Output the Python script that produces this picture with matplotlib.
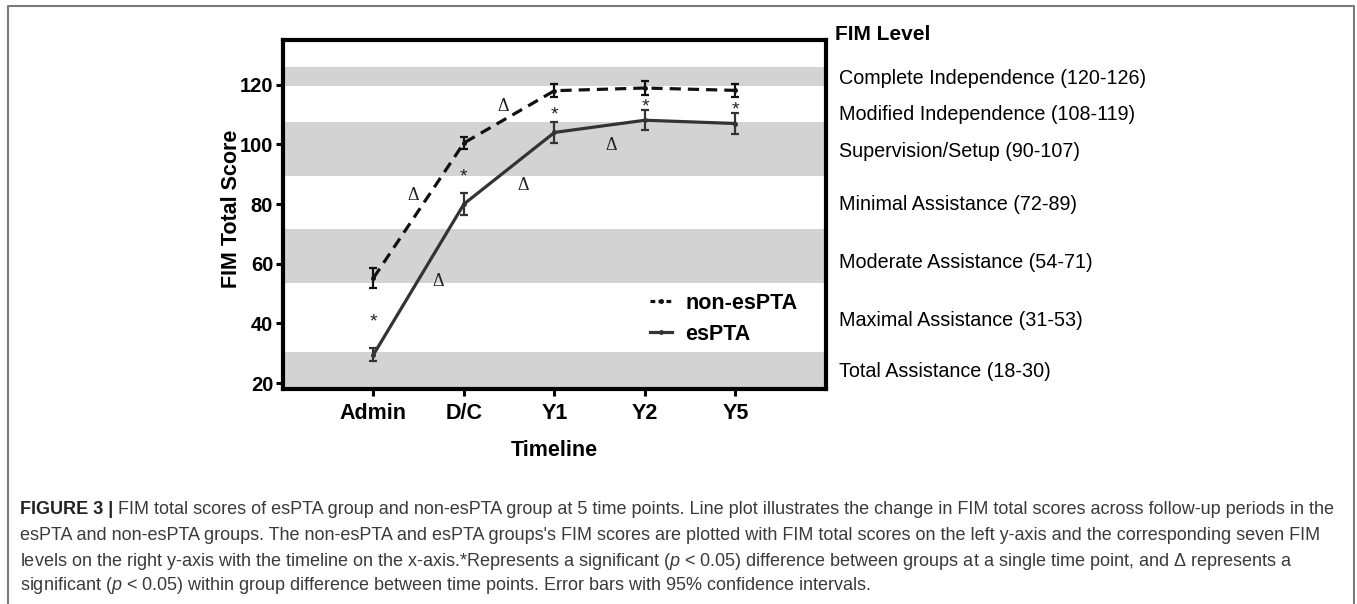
import matplotlib
matplotlib.use("Agg")
import matplotlib.pyplot as plt
from matplotlib.lines import Line2D

plt.rcParams['font.family'] = ['Liberation Sans', 'DejaVu Sans']
plt.rcParams['mathtext.fontset'] = 'custom'
plt.rcParams['mathtext.rm'] = 'Liberation Sans'
plt.rcParams['mathtext.it'] = 'Liberation Sans:italic'

# data
timepoints = ["Admin", "D/C", "Y1", "Y2", "Y5"]
non_espta = [55.2, 100.5, 118.0, 118.9, 118.1]
non_espta_err = [3.4, 2.1, 2.2, 2.2, 2.2]
espta = [29.5, 80.0, 104.0, 108.1, 107.0]
espta_err = [2.2, 3.7, 3.5, 3.4, 3.6]

# FIM level bands (shaded ones) and right-hand labels
shaded_bands = [(119.5, 126), (89.5, 107.5), (53.5, 71.5), (17.5, 30.5)]
level_labels = ["Complete Independence (120-126)", "Modified Independence (108-119)",
                "Supervision/Setup (90-107)", "Minimal Assistance (72-89)",
                "Moderate Assistance (54-71)", "Maximal Assistance (31-53)",
                "Total Assistance (18-30)"]
level_label_y = [122, 110, 97.5, 80, 60.5, 41, 24]

# significance marks: (x, y) = centre of the symbol
star_marks = [(0, 42.2), (1, 90.9), (2, 111.6), (3, 114.4), (4, 113.3)]
delta_marks = [(0.44, 83.4), (0.72, 54.6), (1.43, 113.5), (1.65, 86.8), (2.63, 100.4)]

caption_lines = [
    " FIM total scores of esPTA group and non-esPTA group at 5 time points. Line plot illustrates the change in FIM total scores across follow-up periods in the",
    "esPTA and non-esPTA groups. The non-esPTA and esPTA groups's FIM scores are plotted with FIM total scores on the left y-axis and the corresponding seven FIM",
    "levels on the right y-axis with the timeline on the x-axis.*Represents a significant ($p$ < 0.05) difference between groups at a single time point, and \u0394 represents a",
    "significant ($p$ < 0.05) within group difference between time points. Error bars with 95% confidence intervals.",
]

fig = plt.figure(figsize=(13.57, 6.04), dpi=100)
ax = fig.add_axes([0.2085, 0.356, 0.4002, 0.5778])

x = list(range(len(timepoints)))

for lo, hi in shaded_bands:
    ax.axhspan(lo, hi, color='#d3d3d3', lw=0, zorder=0)

l1 = ax.errorbar(x, non_espta, yerr=non_espta_err, color='#111111', ls='--', lw=2.3,
                 marker='o', ms=2.5, capsize=3, elinewidth=1.6, capthick=1.6, zorder=3)
l1.lines[0].set_dashes((3.5, 2.2))
ax.errorbar(x, espta, yerr=espta_err, color='#333333', ls='-', lw=2.3,
            marker='o', ms=2.5, capsize=3, elinewidth=1.6, capthick=1.6, zorder=3)

# asterisk glyph sits high in the line, so anchor on the baseline a bit lower
for sx, sy in star_marks:
    ax.text(sx, sy - 3.2, "*", ha='center', va='baseline', fontsize=14, color='#222222')
for dx, dy in delta_marks:
    ax.text(dx, dy - 2.2, "\u0394", ha='center', va='baseline', fontsize=13,
            family='Liberation Serif', color='#222222')

ax.set_xlim(-1, 5)
ax.set_ylim(18, 135)
ax.set_xticks(x)
ax.set_xticklabels(timepoints, fontsize=15.5, fontweight='bold')
ax.set_yticks([20, 40, 60, 80, 100, 120])
ax.set_yticklabels(["20", "40", "60", "80", "100", "120"], fontsize=14.5, fontweight='bold')
ax.tick_params(axis='both', width=2.2, length=5, direction='out')
ax.tick_params(axis='x', pad=5)
ax.tick_params(axis='y', pad=2)
for s in ax.spines.values():
    s.set_linewidth(3)

ax.set_ylabel("FIM Total Score", fontsize=15.5, fontweight='bold')
ax.yaxis.set_label_coords(-0.076, 0.516)
ax.set_xlabel("Timeline", fontsize=15.5, fontweight='bold')
ax.xaxis.set_label_coords(0.5, -0.147)

handles = [
    Line2D([], [], color='#111111', ls='--', lw=2.3, marker='o', ms=2.5, dashes=(1.5, 1)),
    Line2D([], [], color='#333333', ls='-', lw=2.3, marker='o', ms=2.5),
]
ax.legend(handles, ["non-esPTA", "esPTA"], loc='upper left', bbox_to_anchor=(0.676, 0.275),
          frameon=False, borderpad=0, borderaxespad=0, handlelength=1.0,
          handletextpad=0.65, labelspacing=0.45, prop={'size': 15.5, 'weight': 'bold'})

# FIM level labels on the right
ax.text(1.016, 137.0, "FIM Level", transform=ax.get_yaxis_transform(),
        fontsize=15, fontweight='bold', ha='left', va='center', clip_on=False)
for lab, ly in zip(level_labels, level_label_y):
    ax.text(1.024, ly, lab, transform=ax.get_yaxis_transform(), fontsize=14.2,
            ha='left', va='center', clip_on=False)

# border around figure panel
border_x = [8 / 1357, 8 / 1357, 1354 / 1357, 1354 / 1357]
border_y = [0, 1 - 6 / 604, 1 - 6 / 604, 0]
fig.add_artist(Line2D(border_x, border_y, transform=fig.transFigure, color='#7a7a7a', lw=1.5))

# caption
cap_y = [1 - 510 / 604, 1 - 536 / 604, 1 - 561 / 604, 1 - 585 / 604]
head = fig.text(20 / 1357, cap_y[0], "FIGURE 3 |", fontsize=13, fontweight='bold',
                color='#222222', va='center', ha='left')
ax.annotate(caption_lines[0], xy=(1, 0.5), xycoords=head, va='center', ha='left',
            fontsize=13, color='#3a3a3a', annotation_clip=False)
for line, yy in zip(caption_lines[1:], cap_y[1:]):
    fig.text(20 / 1357, yy, line, fontsize=13, color='#3a3a3a', va='center', ha='left')

fig.savefig("out.png", dpi=100)
